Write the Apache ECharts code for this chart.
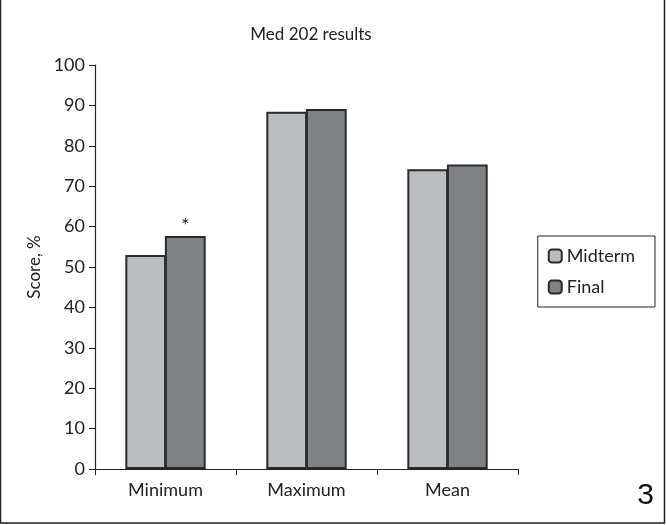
<!DOCTYPE html>
<html lang="en">
	<head>
		<meta charset="UTF-8">
		<title>Med 202 results</title>
		<style type="text/css">
			html,
			body {
				width: 100%;
				height: 100%;
				margin: 0;
				padding: 0;
				background: #fff;
			}

			#main {
				width: 666px;
				height: 525px;
			}
		</style>
	</head>
	<body>
		<div id="main"></div>

		<script src="https://cdn.jsdelivr.net/npm/echarts@6/dist/echarts.min.js" type="text/javascript"></script>
		<script type="text/javascript">
			let categories = ['Minimum', 'Maximum', 'Mean'];
			let midterm = [53.0, 88.4, 74.2];
			let final = [57.7, 89.1, 75.4];
			let yTicks = [0, 10, 20, 30, 40, 50, 60, 70, 80, 90, 100];

			let font = 'Lato';

			// the star goes on the Minimum final bar
			let finalData = final.map((v, i) => {
				if (i === 0) {
					return {
						value: v,
						label: {
							show: true,
							position: 'top',
							formatter: '*',
							fontSize: 20,
							color: '#222',
							distance: 0
						}
					};
				}
				return v;
			});

			var myChart = echarts.init(document.getElementById('main'));
			var option = {
				animation: false,
				textStyle: {
					fontFamily: font
				},
				title: {
					text: 'Med 202 results',
					left: 306,
					textAlign: 'center',
					top: 21,
					textStyle: {
						fontFamily: font,
						fontWeight: 'normal',
						fontSize: 17,
						color: '#222'
					}
				},
				legend: {
					orient: 'vertical',
					right: 11,
					top: 236,
					padding: [11, 20, 11, 10],
					itemGap: 13,
					itemWidth: 13,
					itemHeight: 13,
					borderColor: '#222',
					borderWidth: 1,
					textStyle: {
						fontFamily: font,
						fontSize: 18,
						color: '#222'
					},
					data: ['Midterm', 'Final']
				},
				grid: {
					left: 95,
					right: 148,
					top: 65,
					bottom: 56
				},
				xAxis: {
					type: 'category',
					data: categories,
					axisLine: {
						lineStyle: {
							color: '#222',
							width: 1.2
						}
					},
					axisTick: {
						show: true,
						length: 6,
						lineStyle: {
							color: '#222'
						}
					},
					axisLabel: {
						fontFamily: font,
						fontSize: 18,
						color: '#222',
						margin: 12
					}
				},
				yAxis: {
					type: 'value',
					min: yTicks[0],
					max: yTicks[yTicks.length - 1],
					interval: 10,
					name: 'Score, %',
					nameLocation: 'middle',
					nameGap: 45,
					nameTextStyle: {
						fontFamily: font,
						fontSize: 17,
						color: '#222'
					},
					splitLine: {
						show: false
					},
					axisLine: {
						show: true,
						lineStyle: {
							color: '#222',
							width: 1.2
						}
					},
					axisTick: {
						show: true,
						length: 6,
						lineStyle: {
							color: '#222'
						}
					},
					axisLabel: {
						fontFamily: font,
						fontSize: 18,
						color: '#222',
						margin: 10
					}
				},
				series: [{
						name: 'Midterm',
						type: 'bar',
						data: midterm,
						barGap: '-3%',
						barCategoryGap: '43%',
						itemStyle: {
							color: '#bcbdc1',
							borderColor: '#2a2a2a',
							borderWidth: 2
						}
					},
					{
						name: 'Final',
						type: 'bar',
						data: finalData,
						itemStyle: {
							color: '#808185',
							borderColor: '#2a2a2a',
							borderWidth: 2
						}
					}
				],
				graphic: [{
						type: 'rect',
						shape: {
							x: 0.5,
							y: -2,
							width: 664,
							height: 525
						},
						style: {
							fill: 'none',
							stroke: '#222',
							lineWidth: 1.5
						}
					},
					{
						type: 'text',
						right: 12,
						bottom: 14,
						style: {
							text: '3',
							fontFamily: 'Liberation Sans',
							fontSize: 30,
							fill: '#111'
						}
					}
				]
			};

			myChart.setOption(option);
		</script>
	</body>
</html>
